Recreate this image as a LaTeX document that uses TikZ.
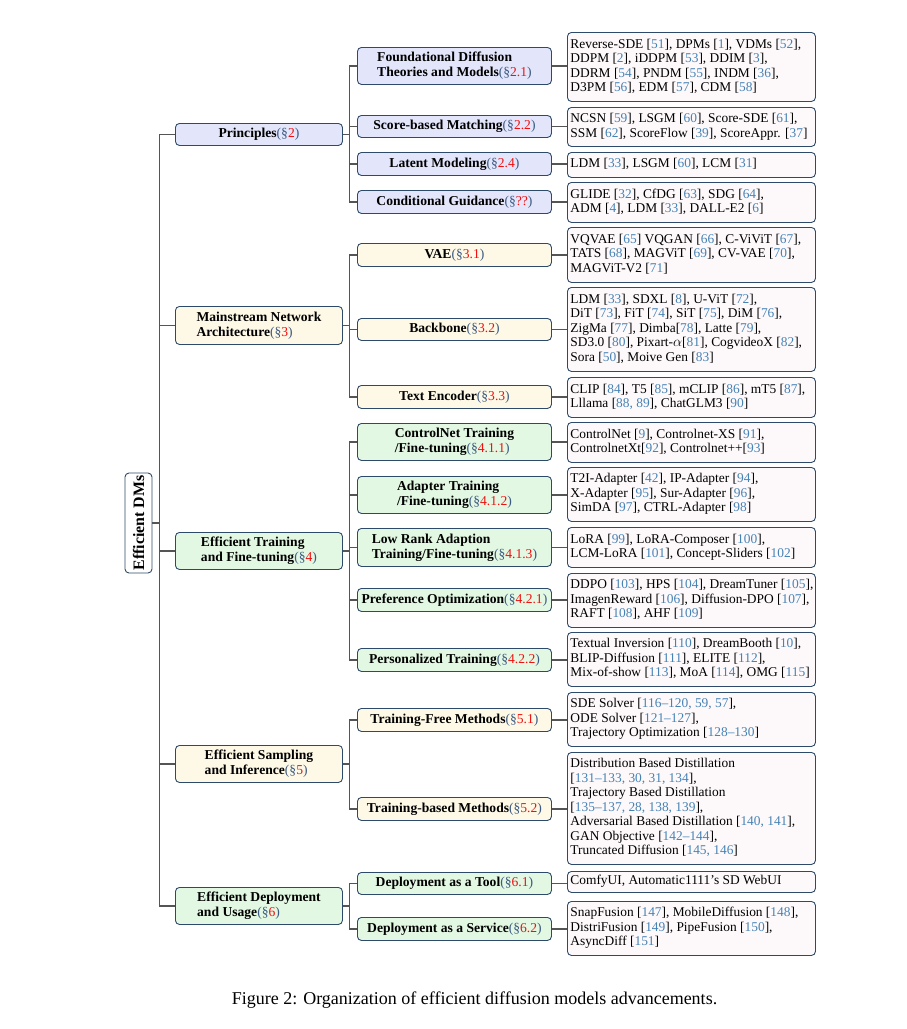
\documentclass[tikz,border=0pt]{standalone}
\usepackage{fontspec}
\setmainfont{Liberation Serif}
\usetikzlibrary{calc}
\definecolor{bordc}{HTML}{2E4A6A}
\definecolor{edgec}{HTML}{555555}
\definecolor{lav}{HTML}{E3E5FA}
\definecolor{yel}{HTML}{FEF9E6}
\definecolor{grn}{HTML}{E2F8E3}
\definecolor{leafc}{HTML}{FDF9FB}
\definecolor{citec}{HTML}{4682B4}
\definecolor{secc}{HTML}{3C5A82}
\definecolor{secr}{HTML}{F01010}
\newcommand{\mycite}[1]{[\textcolor{citec}{#1}]}
\newcommand{\mysec}[1]{\textnormal{\textcolor{secc}{(\S}\textcolor{secr}{#1}\textcolor{secc}{)}}}
\newcommand{\leaftxt}[1]{\makebox[242pt][l]{\begin{tabular}{@{}l@{}}#1\end{tabular}}}
\tikzset{
  boxbase/.style={draw=bordc, line width=0.9pt, rounded corners=4pt, inner sep=0pt, anchor=north west},
  lone/.style={boxbase, minimum width=167pt, align=left, font=\bfseries\fontsize{13.6}{15}\selectfont},
  ltwo/.style={boxbase, minimum width=194pt, align=left, font=\bfseries\fontsize{13.6}{15}\selectfont},
  leaf/.style={boxbase, fill=leafc, minimum width=248pt, inner xsep=3pt, font=\fontsize{13.4}{14.5}\selectfont},
  edge/.style={draw=edgec, line width=1.1pt},
}
\begin{document}
\begin{tikzpicture}[x=1pt,y=-1pt]
\useasboundingbox (0,0) rectangle (907,1029);
\fill[white] (0,0) rectangle (907,1029);

% root
\node[draw=bordc, line width=0.9pt, rounded corners=4pt, fill=white, rotate=90, minimum width=100pt, minimum height=27pt, inner sep=0pt, font=\bfseries\fontsize{15.9}{18}\selectfont] (root) at (138.5,523) {Efficient DMs};

% level 1
\node[lone, fill=lav, minimum height=22pt] (p) at (175,123) {Principles\mysec{2}};
\node[lone, fill=yel, minimum height=38pt] (m) at (175,306) {Mainstream Network\\Architecture\mysec{3}};
\node[lone, fill=grn, minimum height=37pt] (t) at (175,532) {Efficient Training\\and Fine-tuning\mysec{4}};
\node[lone, fill=yel, minimum height=37pt] (s) at (175,745) {Efficient Sampling\\and Inference\mysec{5}};
\node[lone, fill=grn, minimum height=37pt] (d) at (175,887) {Efficient Deployment\\and Usage\mysec{6}};

% level 2
\node[ltwo, fill=lav, minimum height=37pt] (f) at (357,47) {Foundational Diffusion\\Theories and Models\mysec{2.1}};
\node[ltwo, fill=lav, minimum height=22pt] (sc) at (357,115) {Score-based Matching\mysec{2.2}};
\node[ltwo, fill=lav, minimum height=23pt] (lm) at (357,152) {Latent Modeling\mysec{2.4}};
\node[ltwo, fill=lav, minimum height=23pt] (cg) at (357,190) {Conditional Guidance\mysec{??}};
\node[ltwo, fill=yel, minimum height=23pt] (va) at (357,243) {VAE\mysec{3.1}};
\node[ltwo, fill=yel, minimum height=22pt] (bb) at (357,318) {Backbone\mysec{3.2}};
\node[ltwo, fill=yel, minimum height=23pt] (te) at (357,385) {Text Encoder\mysec{3.3}};
\node[ltwo, fill=grn, minimum height=37pt] (cn) at (357,423) {ControlNet Training\\/Fine-tuning\mysec{4.1.1}};
\node[ltwo, fill=grn, minimum height=37pt] (ad) at (357,476) {Adapter Training\\/Fine-tuning\mysec{4.1.2}};
\node[ltwo, fill=grn, minimum height=38pt] (lr) at (357,528) {Low Rank Adaption\\Training/Fine-tuning\mysec{4.1.3}};
\node[ltwo, fill=grn, minimum height=23pt] (po) at (357,588) {Preference Optimization\mysec{4.2.1}};
\node[ltwo, fill=grn, minimum height=23pt] (pt) at (357,648) {Personalized Training\mysec{4.2.2}};
\node[ltwo, fill=yel, minimum height=23pt] (tf) at (357,708) {Training-Free Methods\mysec{5.1}};
\node[ltwo, fill=yel, minimum height=23pt] (tb) at (357,797) {Training-based Methods\mysec{5.2}};
\node[ltwo, fill=grn, minimum height=22pt] (dt) at (357,872) {Deployment as a Tool\mysec{6.1}};
\node[ltwo, fill=grn, minimum height=23pt] (ds) at (357,917) {Deployment as a Service\mysec{6.2}};

% leaves
\node[leaf, minimum height=69pt] (fl) at (567,32) {\leaftxt{Reverse-SDE \mycite{51}, DPMs \mycite{1}, VDMs \mycite{52},\\DDPM \mycite{2}, iDDPM \mycite{53}, DDIM \mycite{3},\\DDRM \mycite{54}, PNDM \mycite{55}, INDM \mycite{36},\\D3PM \mycite{56}, EDM \mycite{57}, CDM \mycite{58}}};
\node[leaf, minimum height=39pt] (scl) at (567,107) {\leaftxt{NCSN \mycite{59}, LSGM \mycite{60}, Score-SDE \mycite{61},\\SSM \mycite{62}, ScoreFlow \mycite{39}, ScoreAppr. \mycite{37}}};
\node[leaf, minimum height=25pt] (lml) at (567,152) {\leaftxt{LDM \mycite{33}, LSGM \mycite{60}, LCM \mycite{31}}};
\node[leaf, minimum height=40pt] (cgl) at (567,182) {\leaftxt{GLIDE \mycite{32}, CfDG \mycite{63}, SDG \mycite{64},\\ADM \mycite{4}, LDM \mycite{33}, DALL-E2 \mycite{6}}};
\node[leaf, minimum height=55pt] (val) at (567,227) {\leaftxt{VQVAE \mycite{65} VQGAN \mycite{66}, C-ViViT \mycite{67},\\TATS \mycite{68}, MAGViT \mycite{69}, CV-VAE \mycite{70},\\MAGViT-V2 \mycite{71}}};
\node[leaf, minimum height=84pt] (bbl) at (567,287) {\leaftxt{LDM \mycite{33}, SDXL \mycite{8}, U-ViT \mycite{72},\\DiT \mycite{73}, FiT \mycite{74}, SiT \mycite{75}, DiM \mycite{76},\\ZigMa \mycite{77}, Dimba\mycite{78}, Latte \mycite{79},\\SD3.0 \mycite{80}, Pixart-$\alpha$\mycite{81}, CogvideoX \mycite{82},\\Sora \mycite{50}, Moive Gen \mycite{83}}};
\node[leaf, minimum height=40pt] (tel) at (567,377) {\leaftxt{CLIP \mycite{84}, T5 \mycite{85}, mCLIP \mycite{86}, mT5 \mycite{87},\\Lllama \mycite{88, 89}, ChatGLM3 \mycite{90}}};
\node[leaf, minimum height=40pt] (cnl) at (567,422) {\leaftxt{ControlNet \mycite{9}, Controlnet-XS \mycite{91},\\ControlnetXt\mycite{92}, Controlnet++\mycite{93}}};
\node[leaf, minimum height=54pt] (adl) at (567,467) {\leaftxt{T2I-Adapter \mycite{42}, IP-Adapter \mycite{94},\\X-Adapter \mycite{95}, Sur-Adapter \mycite{96},\\SimDA \mycite{97}, CTRL-Adapter \mycite{98}}};
\node[leaf, minimum height=40pt] (lrl) at (567,527) {\leaftxt{LoRA \mycite{99}, LoRA-Composer \mycite{100},\\LCM-LoRA \mycite{101}, Concept-Sliders \mycite{102}}};
\node[leaf, minimum height=54pt] (pol) at (567,573) {\leaftxt{DDPO \mycite{103}, HPS \mycite{104}, DreamTuner \mycite{105},\\ImagenReward \mycite{106}, Diffusion-DPO \mycite{107},\\RAFT \mycite{108}, AHF \mycite{109}}};
\node[leaf, minimum height=54pt] (ptl) at (567,632) {\leaftxt{Textual Inversion \mycite{110}, DreamBooth \mycite{10},\\BLIP-Diffusion \mycite{111}, ELITE \mycite{112},\\Mix-of-show \mycite{113}, MoA \mycite{114}, OMG \mycite{115}}};
\node[leaf, minimum height=54pt] (tfl) at (567,692) {\leaftxt{SDE Solver \mycite{116–120, 59, 57},\\ODE Solver \mycite{121–127},\\Trajectory Optimization \mycite{128–130}}};
\node[leaf, minimum height=112pt] (tbl) at (567,752) {\leaftxt{Distribution Based Distillation\\\mycite{131–133, 30, 31, 134},\\Trajectory Based Distillation\\\mycite{135–137, 28, 138, 139},\\Adversarial Based Distillation \mycite{140, 141},\\GAN Objective \mycite{142–144},\\Truncated Diffusion \mycite{145, 146}}};
\node[leaf, minimum height=21pt] (dtl) at (567,871) {\leaftxt{ComfyUI, Automatic1111’s SD WebUI}};
\node[leaf, minimum height=54pt] (dsl) at (567,901) {\leaftxt{SnapFusion \mycite{147}, MobileDiffusion \mycite{148},\\DistriFusion \mycite{149}, PipeFusion \mycite{150},\\AsyncDiff \mycite{151}}};

% edges root -> level 1
\foreach \c in {p,m,t,s,d} \draw[edge] (root.south) -- ++(7,0) |- (\c.west);
% level 1 -> level 2
\foreach \c in {f,sc,lm,cg} \draw[edge] (p.east) -- ++(7,0) |- (\c.west);
\foreach \c in {va,bb,te} \draw[edge] (m.east) -- ++(7,0) |- (\c.west);
\foreach \c in {cn,ad,lr,po,pt} \draw[edge] (t.east) -- ++(7,0) |- (\c.west);
\foreach \c in {tf,tb} \draw[edge] (s.east) -- ++(7,0) |- (\c.west);
\foreach \c in {dt,ds} \draw[edge] (d.east) -- ++(7,0) |- (\c.west);
% level 2 -> leaves
\foreach \a/\b in {f/fl,sc/scl,lm/lml,cg/cgl,va/val,bb/bbl,te/tel,cn/cnl,ad/adl,lr/lrl,po/pol,pt/ptl,tf/tfl,tb/tbl,dt/dtl,ds/dsl}
  \draw[edge] (\a.east) -- (\a.east -| \b.west);

% caption
\node[font=\fontsize{18}{20}\selectfont, inner sep=0pt] (cap) at (474.5,1000) {Figure 2: Organization of efficient diffusion models advancements.};
\end{tikzpicture}
\end{document}
